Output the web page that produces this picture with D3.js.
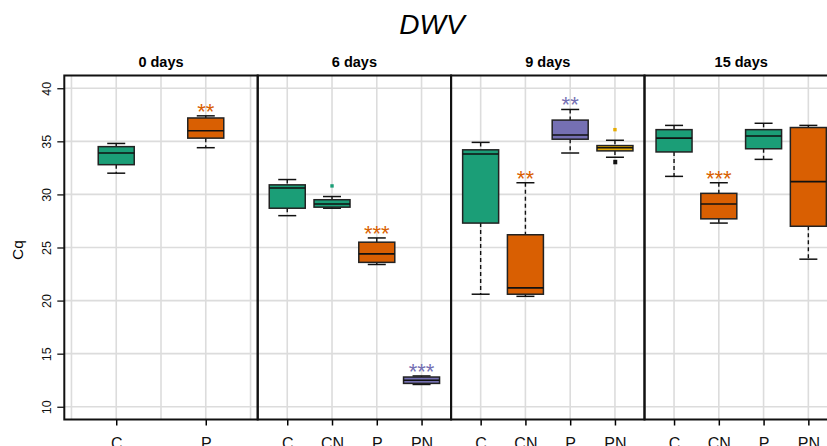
<!DOCTYPE html>
<html>
<head>
<meta charset="utf-8">
<script src="https://cdn.jsdelivr.net/npm/d3@7"></script>
<style>
  body { margin: 0; background: #fff; }
  svg { display: block; font-family: "Liberation Sans", Arial, sans-serif; }
</style>
</head>
<body>
<div id="vis"></div>
<script>
// DWV Cq boxplots, one panel per sampling day

const W = 827, H = 446;
const LEFT = 64.3, PANEL_W = 193.4, TOP = 75.5, BOTTOM = 419.5;

const days = ["0 days", "6 days", "9 days", "15 days"];
const groupsByDay = [["C", "P"], ["C", "CN", "P", "PN"], ["C", "CN", "P", "PN"], ["C", "CN", "P", "PN"]];
const yTicks = [10, 15, 20, 25, 30, 35, 40];

// one entry per box, in panel order
const boxDay   = [0, 0, 1, 1, 1, 1, 2, 2, 2, 2, 3, 3, 3, 3];
const boxGroup = ["C", "P", "C", "CN", "P", "PN", "C", "CN", "P", "PN", "C", "CN", "P", "PN"];
const whiskLo  = [32.0, 34.4, 28.0, 28.7, 23.4, 12.1, 20.6, 20.4, 33.9, 33.5, 31.7, 27.3, 33.3, 23.9];
const q1       = [32.8, 35.3, 28.7, 28.8, 23.6, 12.2, 27.3, 20.6, 35.2, 34.1, 34.0, 27.7, 34.3, 27.0];
const median   = [33.9, 36.0, 30.6, 29.1, 24.4, 12.5, 33.8, 21.2, 35.6, 34.4, 35.3, 29.1, 35.5, 31.2];
const q3       = [34.5, 37.2, 30.9, 29.5, 25.5, 12.8, 34.2, 26.2, 37.0, 34.6, 36.1, 30.1, 36.1, 36.3];
const whiskHi  = [34.8, 37.4, 31.4, 29.8, 25.9, 12.9, 34.9, 31.1, 38.0, 35.1, 36.5, 31.1, 36.7, 36.5];
const boxColor = ["g", "o", "g", "g", "o", "p", "g", "o", "p", "y", "g", "o", "g", "o"];
const stars    = ["", "**", "", "", "***", "***", "", "**", "**", "", "", "***", "", ""];

// outlying points
const outDay   = [1, 2, 2];
const outGroup = ["CN", "PN", "PN"];
const outValue = [30.8, 36.1, 33.1];
const outColor = ["g", "y", "k"];

const COLORS = {g: "#1B9E77", o: "#D95F02", p: "#7570B3", y: "#E6AB02", k: "#111111"};

const svg = d3.select("#vis").append("svg")
  .attr("width", W).attr("height", H);

const Y_SCALE = d3.scaleLinear().domain([8.8, 41.2]).range([BOTTOM, TOP]);

// one x scale per panel, domain padded like base R
const xScales = groupsByDay.map((g, i) => {
  const n = g.length, pad = 0.04 * n;
  const x0 = LEFT + i * PANEL_W;
  return d3.scaleLinear().domain([0.5 - pad, n + 0.5 + pad]).range([x0, x0 + PANEL_W]);
});
const xPos = (day, grp) => xScales[day](groupsByDay[day].indexOf(grp) + 1);

// title
svg.append("text")
  .attr("x", 432).attr("y", 34)
  .attr("text-anchor", "middle")
  .attr("font-size", 28).attr("font-style", "italic")
  .text("DWV");

// panels
days.forEach((d, i) => {
  const xs = xScales[i];
  const [x0, x1] = xs.range();
  const g = svg.append("g");

  // grid
  g.selectAll(".hg").data(yTicks).enter().append("line")
    .attr("x1", x0).attr("x2", x1)
    .attr("y1", v => Y_SCALE(v)).attr("y2", v => Y_SCALE(v))
    .attr("stroke", "#dcdcdc").attr("stroke-width", 1.6);
  g.selectAll(".vg").data(xs.ticks(4)).enter().append("line")
    .attr("x1", v => xs(v)).attr("x2", v => xs(v))
    .attr("y1", TOP).attr("y2", BOTTOM)
    .attr("stroke", "#dcdcdc").attr("stroke-width", 1.6);

  // panel header
  svg.append("text")
    .attr("x", (x0 + x1) / 2).attr("y", 66.5)
    .attr("text-anchor", "middle")
    .attr("font-size", 14.5).attr("font-weight", "bold")
    .text(d);

  // bottom axis, categories only
  const ax = svg.append("g")
    .attr("transform", "translate(0," + BOTTOM + ")")
    .call(d3.axisBottom(xs)
      .tickValues(d3.range(1, groupsByDay[i].length + 1))
      .tickFormat(v => groupsByDay[i][v - 1])
      .tickSize(6).tickPadding(12).tickSizeOuter(0));
  ax.select(".domain").remove();
  ax.selectAll(".tick line").attr("stroke", "#000").attr("stroke-width", 1.5);
  ax.selectAll(".tick text")
    .attr("font-family", "'Liberation Sans', Arial, sans-serif")
    .attr("font-size", 16).attr("fill", "#111");
});

// boxes
const boxes = d3.range(boxDay.length).map(i => ({
  x: xPos(boxDay[i], boxGroup[i]),
  lo: whiskLo[i], q1: q1[i], med: median[i], q3: q3[i], hi: whiskHi[i],
  col: COLORS[boxColor[i]], star: stars[i]
}));

const BOX_W = 36, CAP_W = 18;
const bg = svg.selectAll(".box").data(boxes).enter().append("g").attr("class", "box");

bg.append("line") // upper whisker
  .attr("x1", d => d.x).attr("x2", d => d.x)
  .attr("y1", d => Y_SCALE(d.hi)).attr("y2", d => Y_SCALE(d.q3))
  .attr("stroke", "#111").attr("stroke-width", 1.4).attr("stroke-dasharray", "4,3");
bg.append("line") // lower whisker
  .attr("x1", d => d.x).attr("x2", d => d.x)
  .attr("y1", d => Y_SCALE(d.q1)).attr("y2", d => Y_SCALE(d.lo))
  .attr("stroke", "#111").attr("stroke-width", 1.4).attr("stroke-dasharray", "4,3");
bg.selectAll(".cap").data(d => [d, d].map((b, k) => ({x: b.x, v: k ? b.lo : b.hi})))
  .enter().append("line")
  .attr("x1", d => d.x - CAP_W / 2).attr("x2", d => d.x + CAP_W / 2)
  .attr("y1", d => Y_SCALE(d.v)).attr("y2", d => Y_SCALE(d.v))
  .attr("stroke", "#111").attr("stroke-width", 1.5);
bg.append("rect")
  .attr("x", d => d.x - BOX_W / 2).attr("width", BOX_W)
  .attr("y", d => Y_SCALE(d.q3))
  .attr("height", d => Y_SCALE(d.q1) - Y_SCALE(d.q3))
  .attr("fill", d => d.col)
  .attr("stroke", "#222").attr("stroke-width", 1.5);
bg.append("line") // median
  .attr("x1", d => d.x - BOX_W / 2).attr("x2", d => d.x + BOX_W / 2)
  .attr("y1", d => Y_SCALE(d.med)).attr("y2", d => Y_SCALE(d.med))
  .attr("stroke", "#111").attr("stroke-width", 1.6);
bg.filter(d => d.star).append("text")
  .attr("x", d => d.x).attr("y", d => Y_SCALE(d.hi) + 3)
  .attr("text-anchor", "middle")
  .attr("font-size", 22)
  .attr("fill", d => d.col)
  .text(d => d.star);

// outliers
svg.selectAll(".out").data(d3.range(outValue.length)).enter().append("rect")
  .attr("x", i => xPos(outDay[i], outGroup[i]) - 1.7)
  .attr("y", i => Y_SCALE(outValue[i]) - 1.7)
  .attr("width", i => outColor[i] === "k" ? 4 : 3.4)
  .attr("height", i => outColor[i] === "k" ? 4.5 : 3.4)
  .attr("fill", i => COLORS[outColor[i]]);

// panel frames
svg.selectAll(".frame").data(days).enter().append("rect")
  .attr("x", (d, i) => xScales[i].range()[0])
  .attr("y", TOP).attr("width", PANEL_W).attr("height", BOTTOM - TOP)
  .attr("fill", "none").attr("stroke", "#111").attr("stroke-width", 2);

// y axis
const yAx = svg.append("g")
  .attr("transform", "translate(" + LEFT + ",0)")
  .call(d3.axisLeft(Y_SCALE).tickValues(yTicks).tickSize(7).tickPadding(5).tickSizeOuter(0));
yAx.select(".domain").remove();
yAx.selectAll(".tick line").attr("stroke", "#111").attr("stroke-width", 1.3);
yAx.selectAll(".tick text")
  .attr("font-family", "'Liberation Sans', Arial, sans-serif")
  .attr("font-size", 12.5).attr("fill", "#111")
  .attr("text-anchor", "middle").attr("dy", null)
  .attr("transform", "rotate(-90)")
  .attr("x", 0)
  .attr("y", -13);

svg.append("text")
  .attr("transform", "translate(23,250) rotate(-90)")
  .attr("text-anchor", "middle")
  .attr("font-size", 15.5)
  .text("Cq");
</script>
</body>
</html>
